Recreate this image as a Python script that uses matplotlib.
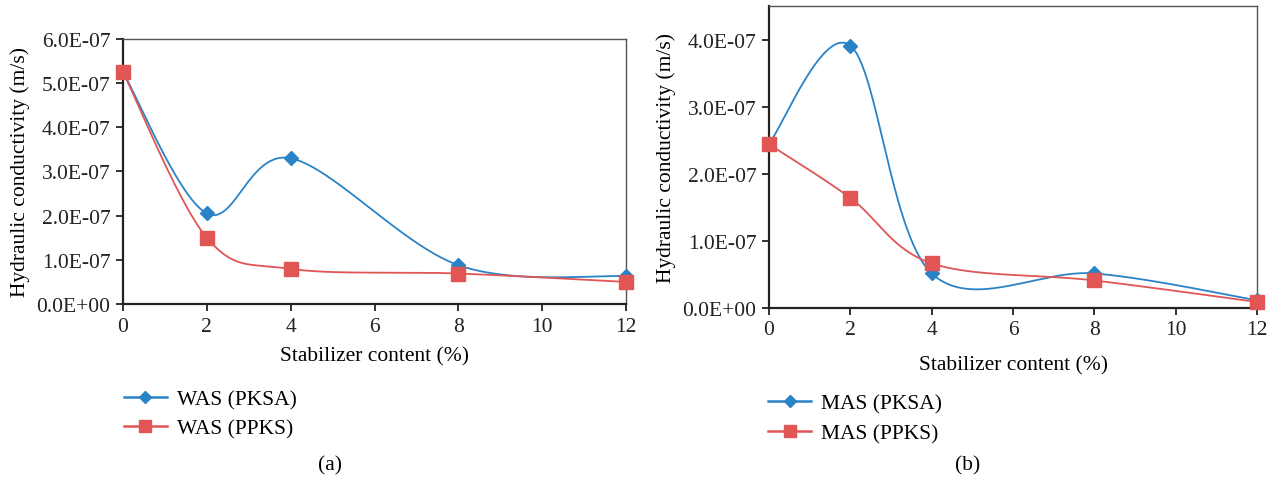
import numpy as np
import matplotlib
matplotlib.use('Agg')
import matplotlib.pyplot as plt
from matplotlib.ticker import FuncFormatter

plt.rcParams['font.family'] = ['Liberation Serif', 'DejaVu Serif']

# stabilizer content (%)
content = [0, 2, 4, 8, 12]

# hydraulic conductivity (m/s)
was_pksa = [5.25e-07, 2.05e-07, 3.30e-07, 0.88e-07, 0.63e-07]
was_ppks = [5.25e-07, 1.50e-07, 0.795e-07, 0.69e-07, 0.50e-07]
mas_pksa = [2.45e-07, 3.91e-07, 0.515e-07, 0.515e-07, 0.115e-07]
mas_ppks = [2.44e-07, 1.64e-07, 0.665e-07, 0.41e-07, 0.09e-07]

blue = '#2a83c6'
red = '#e15555'


def smooth(x, y, n=60):
    # catmull-rom style bezier between points, like a spreadsheet "smoothed line"
    p = np.column_stack([x, y]).astype(float)
    pts = np.vstack([p[0], p, p[-1]])
    out = []
    t = np.linspace(0, 1, n)[:, None]
    for i in range(1, len(pts) - 2):
        p0, p1, p2, p3 = pts[i - 1], pts[i], pts[i + 1], pts[i + 2]
        c1 = p1 + (p2 - p0) / 6
        c2 = p2 - (p3 - p1) / 6
        seg = ((1 - t) ** 3 * p1 + 3 * (1 - t) ** 2 * t * c1
               + 3 * (1 - t) * t ** 2 * c2 + t ** 3 * p2)
        out.append(seg if i == 1 else seg[1:])
    seg = np.vstack(out)
    return seg[:, 0], seg[:, 1]


def draw(ax, s1, s2, names, ymax, ytop, xpad):
    for vals, col, mk, ms, lms, nm in [(s1, blue, 'D', 7.5, 6.5, names[0]),
                                       (s2, red, 's', 10, 8.5, names[1])]:
        sx, sy = smooth(content, vals)
        ax.plot(sx, sy, color=col, lw=1.3, zorder=2, clip_on=False)
        ax.plot(content, vals, ls='none', marker=mk, ms=ms, color=col,
                mec=col, zorder=3, clip_on=False)
        ax.plot([], [], color=col, lw=1.8, marker=mk, ms=lms, label=nm)
    ax.set_xlim(0, 12)
    ax.set_ylim(0, ymax)
    ax.set_xticks(range(0, 13, 2))
    ax.set_yticks(np.arange(0, ytop + 1e-12, 1e-07))
    ax.yaxis.set_major_formatter(FuncFormatter(lambda v, _: f'{v:.1E}'))
    ax.tick_params(direction='out', length=5, width=1.3, labelsize=15.5,
                   pad=4, colors='#222222')
    for side in ['left', 'bottom']:
        ax.spines[side].set_linewidth(1.6)
        ax.spines[side].set_color('#222222')
    for side in ['top', 'right']:
        ax.spines[side].set_linewidth(1.0)
        ax.spines[side].set_color('#555555')
    ax.set_xlabel('Stabilizer content (%)', fontsize=15.5, labelpad=xpad)
    ax.set_ylabel('Hydraulic conductivity (m/s)', fontsize=15.5, labelpad=5)


fig = plt.figure(figsize=(12.76, 4.81), dpi=100)
ax1 = fig.add_axes([0.0964, 0.3659, 0.3942, 0.551])
ax2 = fig.add_axes([0.6027, 0.3576, 0.3824, 0.6279])

draw(ax1, was_pksa, was_ppks, ['WAS (PKSA)', 'WAS (PPKS)'], 6e-07, 6e-07, 8)
draw(ax2, mas_pksa, mas_ppks, ['MAS (PKSA)', 'MAS (PPKS)'], 4.5e-07, 4e-07, 11)

for ax, x0, y0 in [(ax1, 0.097, 0.189), (ax2, 0.602, 0.180)]:
    ax.legend(loc='upper left', bbox_to_anchor=(x0, y0),
              bbox_transform=fig.transFigure, frameon=False, fontsize=15.5,
              handlelength=2.0, handletextpad=0.45, labelspacing=0.45,
              borderaxespad=0, borderpad=0)

fig.text(0.2585, 0.031, '(a)', ha='center', va='center', fontsize=15.5)
fig.text(0.758, 0.031, '(b)', ha='center', va='center', fontsize=15.5)

fig.savefig('out.png', dpi=100)
